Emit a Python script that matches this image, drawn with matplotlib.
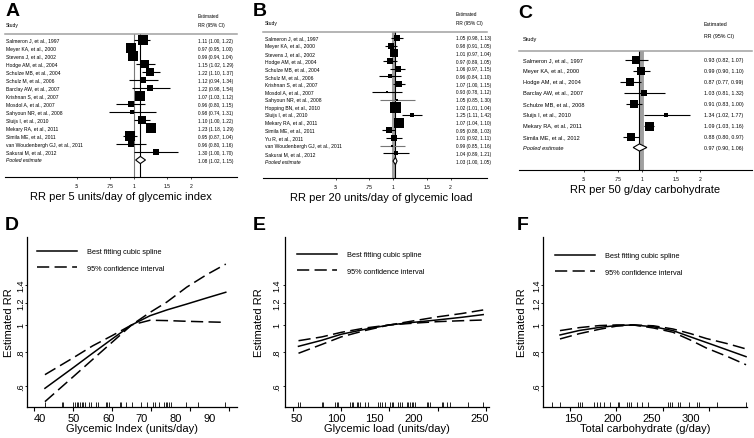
import numpy as np
import matplotlib
matplotlib.use("Agg")
import matplotlib.pyplot as plt
from matplotlib.lines import Line2D
from matplotlib.transforms import ScaledTranslation

plt.rcParams["font.family"] = ["Liberation Sans", "DejaVu Sans"]

W, H = 754, 439

# ---------------- forest plot data ----------------
gi_studies = ["Salmeron J, et al., 1997", "Meyer KA, et al., 2000", "Stevens J, et al., 2002",
              "Hodge AM, et al., 2004", "Schulze MB, et al., 2004", "Schulz M, et al., 2006",
              "Barclay AW, et al., 2007", "Krishnan S, et al., 2007", "Mosdol A, et al., 2007",
              "Sahyoun NR, et al., 2008", "Sluijs I, et al., 2010", "Mekary RA, et al., 2011",
              "Simila ME, et al., 2011", "van Woudenbergh GJ, et al., 2011", "Sakurai M, et al., 2012"]
gi_rr = [1.11, 0.97, 0.99, 1.15, 1.22, 1.12, 1.22, 1.07, 0.96, 0.98, 1.10, 1.23, 0.95, 0.96, 1.30]
gi_lo = [1.00, 0.95, 0.94, 1.02, 1.10, 0.94, 0.98, 1.03, 0.80, 0.74, 1.00, 1.18, 0.87, 0.80, 1.00]
gi_hi = [1.22, 1.00, 1.04, 1.29, 1.37, 1.34, 1.54, 1.12, 1.15, 1.31, 1.22, 1.29, 1.04, 1.16, 1.70]
gi_weight = [9.9, 9.9, 9.9, 6.1, 6.6, 5.1, 3.2, 9.1, 4.1, 2.5, 5.7, 9.1, 10.8, 5.1, 3.2]
gi_pooled = [1.08, 1.02, 1.15]

gl_studies = ["Salmeron J, et al., 1997", "Meyer KA, et al., 2000", "Stevens J, et al., 2002",
              "Hodge AM, et al., 2004", "Schulze MB, et al., 2004", "Schulz M, et al., 2006",
              "Krishnan S, et al., 2007", "Mosdol A, et al., 2007", "Sahyoun NR, et al., 2008",
              "Hopping BN, et al., 2010", "Sluijs I, et al., 2010", "Mekary RA, et al., 2011",
              "Simila ME, et al., 2011", "Yu R, et al., 2011", "van Woudenbergh GJ, et al., 2011",
              "Sakurai M, et al., 2012"]
gl_rr = [1.05, 0.98, 1.01, 0.97, 1.06, 0.96, 1.07, 0.93, 1.05, 1.02, 1.25, 1.07, 0.95, 1.01, 0.99, 1.04]
gl_lo = [0.98, 0.91, 0.97, 0.89, 0.97, 0.84, 1.00, 0.78, 0.85, 1.01, 1.11, 1.04, 0.88, 0.92, 0.85, 0.89]
gl_hi = [1.13, 1.05, 1.04, 1.05, 1.15, 1.10, 1.15, 1.12, 1.30, 1.04, 1.42, 1.10, 1.03, 1.11, 1.16, 1.21]
gl_weight = [6.2, 7.4, 10.1, 6.2, 5.1, 3.3, 7.4, 1.3, 1.3, 18.6, 3.3, 15.6, 6.2, 4.2, 1.3, 2.5]
gl_pooled = [1.03, 1.00, 1.05]

cho_studies = ["Salmeron J, et al., 1997", "Meyer KA, et al., 2000", "Hodge AM, et al., 2004",
               "Barclay AW, et al., 2007", "Schulze MB, et al., 2008", "Sluijs I, et al., 2010",
               "Mekary RA, et al., 2011", "Simila ME, et al., 2012"]
cho_rr = [0.93, 0.99, 0.87, 1.03, 0.91, 1.34, 1.09, 0.88]
cho_lo = [0.82, 0.90, 0.77, 0.81, 0.83, 1.02, 1.03, 0.80]
cho_hi = [1.07, 1.10, 0.99, 1.32, 1.00, 1.77, 1.16, 0.97]
cho_weight = [15.5, 15.5, 15.5, 5.5, 12.4, 4.2, 16.9, 14.6]
cho_pooled = [0.97, 0.90, 1.06]

forest_ticks = [0.5, 0.75, 1, 1.5, 2]
forest_ticklabels = [".5", ".75", "1", "1.5", "2"]

# ---------------- dose-response spline data ----------------
gi_x = [42.8, 50, 55, 60, 65, 69.7, 74, 79.1, 84.2, 89.1]
gi_fit = [0.59, 0.70, 0.79, 0.89, 1.0, 1.08, 1.133, 1.19, 1.252, 1.313]
gi_up = [0.661, 0.76, 0.84, 0.915, 1.0, 1.11, 1.21, 1.37, 1.52, 1.66]
gi_low = [0.528, 0.649, 0.75, 0.866, 1.0, 1.04, 1.037, 1.031, 1.026, 1.022]
gi_rug = [42.8, 47.1, 47.5, 50.1, 50.5, 50.9, 51.3, 51.8, 52.2, 52.6, 53.1, 54.1, 54.5, 55.9,
          56.3, 58.4, 58.8, 59.3, 62.0, 62.4, 63.5, 65.2, 67.3, 69.0, 70.5, 71.0, 72.1, 73.3,
          73.7, 74.1, 74.6, 75.0, 78.8, 82.1, 88.9]

gl_x = [56, 80, 100, 125, 150, 175, 200, 225, 247]
gl_fit = [0.837, 0.88, 0.925, 0.965, 1.0, 1.022, 1.043, 1.066, 1.09]
gl_up = [0.877, 0.905, 0.94, 0.975, 1.0, 1.035, 1.07, 1.10, 1.133]
gl_low = [0.79, 0.85, 0.905, 0.955, 1.0, 1.015, 1.028, 1.036, 1.042]
gl_rug = [55.8, 57.5, 79.9, 81.6, 93.7, 95.4, 97.1, 109.2, 110.9, 112.6, 116.1, 117.8, 119.5,
          124.7, 128.1, 138.5, 140.2, 141.9, 145.4, 150.5, 152.3, 154.0, 159.2, 160.9, 162.6,
          167.8, 169.5, 171.2, 172.9, 174.7, 176.4, 188.4, 190.1, 191.9, 203.9, 205.7, 209.1,
          212.6, 230.9, 247.1]

cho_x = [139.2, 160, 182, 200, 218, 240, 261, 280, 297, 320, 339.7]
cho_fit = [0.92, 0.955, 0.98, 0.995, 1.0, 0.985, 0.954, 0.905, 0.864, 0.811, 0.768]
cho_up = [0.954, 0.978, 0.995, 1.0, 1.0, 0.993, 0.967, 0.93, 0.893, 0.855, 0.819]
cho_low = [0.89, 0.93, 0.965, 0.99, 1.0, 0.975, 0.941, 0.881, 0.825, 0.768, 0.718]
cho_rug = [130.2, 139.2, 159.0, 160.8, 162.6, 176.2, 178.7, 182.3, 186.6, 193.1, 202.1, 203.2,
           211.1, 214.0, 215.8, 221.9, 227.3, 234.5, 256.0, 257.8, 259.6, 266.8, 268.6, 278.7,
           286.6, 289.4, 308.1, 339.7]

rr_ticks = [0.6, 0.8, 1, 1.2, 1.4]
rr_ticklabels = [".6", ".8", "1", "1.2", "1.4"]

fig = plt.figure(figsize=(W / 100, H / 100), dpi=100)


def px_rect(x0, y0, x1, y1):
    return [x0 / W, 1 - y1 / H, (x1 - x0) / W, (y1 - y0) / H]


def forest(box, one_px, ppl, row0, step, names, rr, lo, hi, weight, pooled,
           name_px, est_px, head_y, xlabel, xlabel_xy, ref_style, box_max, fs_name, fs_est,
           grey_ci=()):
    x0, y0, x1, y1 = box
    ax = fig.add_axes(px_rect(x0, y0, x1, y1))
    ax.set_xscale("log")
    ax.set_xlim(np.exp((x0 - one_px) / ppl * np.log(2)), np.exp((x1 - one_px) / ppl * np.log(2)))
    ax.set_ylim((y1 - row0) / step, (y0 - row0) / step)
    n = len(names)
    rows = np.arange(n)

    ax.axvline(1, color=ref_style[0], lw=ref_style[1], zorder=1)
    ax.axvline(pooled[0], color="black", lw=0.8, zorder=2)

    ci_cols = ["#777777" if i in grey_ci else "black" for i in range(n)]
    ax.hlines(rows, lo, hi, colors=ci_cols, lw=0.8, zorder=3)
    w = np.array(weight)
    sizes = box_max * np.sqrt(w / w.max()) * 0.72
    for r, e, s in zip(rows, rr, sizes):
        ax.plot(e, r, marker="s", ms=s, color="black", mew=0, zorder=4)

    p, pl, ph = pooled
    hh = 3.6 / step
    ax.fill([pl, p, ph, p], [n, n - hh, n, n + hh], facecolor="white", edgecolor="black",
            lw=0.8, zorder=5)

    tr = ax.get_yaxis_transform()
    fx_name = (name_px - x0) / (x1 - x0)
    fx_est = (est_px - x0) / (x1 - x0)
    for r, nm, e, l, h in zip(rows, names, rr, lo, hi):
        ax.text(fx_name, r, nm, transform=tr, fontsize=fs_name, va="center", ha="left")
        ax.text(fx_est, r, f"{e:.2f} ({l:.2f}, {h:.2f})", transform=tr, fontsize=fs_est,
                va="center", ha="left")
    ax.text(fx_name, n, "Pooled estimate", transform=tr, fontsize=fs_name, va="center",
            ha="left", style="italic")
    ax.text(fx_est, n, f"{p:.2f} ({pl:.2f}, {ph:.2f})", transform=tr, fontsize=fs_est,
            va="center", ha="left")

    hs, he, hr = head_y
    ax.text(fx_name, (hs - row0) / step, "Study", transform=tr, fontsize=fs_name, va="center")
    ax.text(fx_est, (he - row0) / step, "Estimated", transform=tr, fontsize=fs_est, va="center")
    ax.text(fx_est, (hr - row0) / step, "RR (95% CI)", transform=tr, fontsize=fs_est, va="center")

    for s in ["left", "right"]:
        ax.spines[s].set_visible(False)
    ax.spines["top"].set_color("#a0a0a0")
    ax.spines["top"].set_linewidth(1.1)
    ax.spines["bottom"].set_linewidth(0.8)
    ax.set_yticks([])
    ax.set_xticks(forest_ticks)
    ax.set_xticklabels(forest_ticklabels)
    ax.minorticks_off()
    ax.tick_params(axis="x", length=1.5, width=0.5, labelsize=3.6, pad=2.5)
    ax.set_xlabel(xlabel, fontsize=8)
    ax.xaxis.set_label_coords((xlabel_xy[0] - x0) / (x1 - x0), -(xlabel_xy[1] - y1) / (y1 - y0))
    ax.xaxis.label.set_va("center")
    return ax


def spline(box, x, fit, up, low, rug, xticks, tick0_px, ppu, label_shift, xlabel,
           ytick_pad, ylabel_x, legend_xy):
    x0, y0, x1, y1 = box
    ax = fig.add_axes(px_rect(x0, y0, x1, y1))
    ax.set_yscale("log")
    ax.set_xlim(xticks[0] + (x0 - tick0_px) / ppu, xticks[0] + (x1 - tick0_px) / ppu)
    ax.set_ylim(0.505, 2.08)
    dash = (0, (8, 3.5))
    ax.plot(x, fit, color="black", lw=1.1)
    ax.plot(x, up, color="black", lw=1.1, ls=dash)
    ax.plot(x, low, color="black", lw=1.1, ls=dash)
    ax.vlines(rug, 0, 0.03, transform=ax.get_xaxis_transform(), color="black", lw=0.6)

    for s in ["top", "right"]:
        ax.spines[s].set_visible(False)
    for s in ["left", "bottom"]:
        ax.spines[s].set_linewidth(0.9)
    ax.set_xticks(xticks)
    ax.set_xticklabels([str(t) for t in xticks])
    ax.set_yticks(rr_ticks)
    ax.set_yticklabels(rr_ticklabels, rotation=90, va="center")
    ax.minorticks_off()
    ax.tick_params(axis="x", length=3, width=0.8, labelsize=8, pad=1)
    ax.tick_params(axis="y", length=1.5, width=0.6, labelsize=6.5, pad=ytick_pad)
    for lab, dx in zip(ax.get_xticklabels(), label_shift):
        lab.set_transform(lab.get_transform() + ScaledTranslation(dx / 100, 0, fig.dpi_scale_trans))
    ax.set_xlabel(xlabel, fontsize=8, labelpad=0)
    ax.set_ylabel("Estimated RR", fontsize=8)
    ax.yaxis.label.set_va("center")
    ax.yaxis.set_label_coords((ylabel_x - x0) / (x1 - x0), 0.5)

    handles = [Line2D([], [], color="black", lw=1.1),
               Line2D([], [], color="black", lw=1.1, ls=dash)]
    ax.legend(handles, ["Best fitting cubic spline", "95% confidence interval"],
              loc="upper left", bbox_to_anchor=((legend_xy[0] - x0) / (x1 - x0),
                                                (y1 - legend_xy[1]) / (y1 - y0)),
              frameon=False, fontsize=5.3, handlelength=5.4, handletextpad=1.4,
              labelspacing=1.3, borderaxespad=0, borderpad=0)
    return ax


forest((5, 35, 237, 178), 134, 57, 41, 8, gi_studies, gi_rr, gi_lo, gi_hi, gi_weight,
       gi_pooled, 6, 198, (25, 16.5, 25), "RR per 5 units/day of glycemic index", (121, 197),
       ("#7a7a7a", 0.8), 10, 3.6, 3.4)
forest((263, 33, 487, 179), 393, 57.5, 39, 7.69, gl_studies, gl_rr, gl_lo, gl_hi, gl_weight,
       gl_pooled, 265, 456, (23.5, 15, 23.5), "RR per 20 units/day of glycemic load", (381, 198),
       ("#a0a0a0", 2.2), 11, 3.6, 3.4, grey_ci=(8, 14))
forest((519, 52, 752, 171), 642, 58, 60.5, 11, cho_studies, cho_rr, cho_lo, cho_hi,
       cho_weight, cho_pooled, 523, 704, (40, 25, 37), "RR per 50 g/day carbohydrate", (645, 190),
       ("#a0a0a0", 2.8), 9, 4.1, 3.8)

spline((27, 238, 236.7, 408), gi_x, gi_fit, gi_up, gi_low, gi_rug, [40, 50, 60, 70, 80, 90],
       34, 3.906, [6, 1, -4, -10, -15, -20], "Glycemic Index (units/day)", 0, 8.5, (37, 249))
spline((285, 238, 489, 408), gl_x, gl_fit, gl_up, gl_low, gl_rug, [50, 100, 150, 200, 250],
       292.7, 0.967, [4, -5, -15, -24, -6], "Glycemic load (units/day)", 1, 259, (297, 252))
spline((543.3, 238, 747, 408), cho_x, cho_fit, cho_up, cho_low, cho_rug, [150, 200, 250, 300],
       570, 0.928, [3, -4, -11, -18], "Total carbohydrate (g/day)", 0, 522, (555, 253))

for lbl, x, y in [("A", 6, 3), ("B", 253, 3), ("C", 518, 5), ("D", 5, 217), ("E", 253, 217),
                  ("F", 517, 217)]:
    fig.text(x / W, 1 - y / H, lbl, fontsize=14, fontweight="bold", va="top", ha="left")

fig.savefig("out.png", dpi=100)
